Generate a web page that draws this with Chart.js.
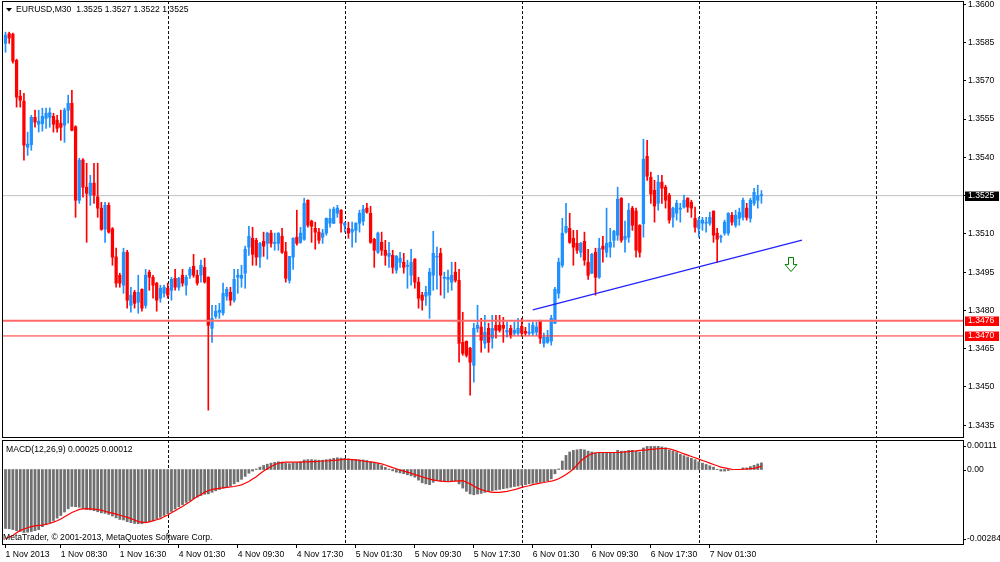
<!DOCTYPE html>
<html><head><meta charset="utf-8">
<script src="https://cdn.jsdelivr.net/npm/chart.js@4.4.1/dist/chart.umd.min.js"></script>
<style>
html,body{margin:0;padding:0;background:#fff;}
#wrap{position:relative;width:1000px;height:562px;background:#fff;}
#wrap canvas{position:absolute;left:0;top:0;}
</style></head><body>
<div id="wrap"><canvas id="main" width="1000" height="562"></canvas><canvas id="macd" width="1000" height="562"></canvas></div>
<script>
const symbol = 'EURUSD', timeframe = 'M30';
const opens = [1.35847,1.35885,1.35883,1.35780,1.35640,1.35620,1.35440,1.35450,1.35557,1.35530,
1.35532,1.35553,1.35557,1.35561,1.35546,1.35534,1.35526,1.35585,1.35612,1.35520,
1.35232,1.35390,1.35283,1.35252,1.35299,1.35245,1.35201,1.35118,1.35212,1.35120,
1.35010,1.34938,1.34899,1.35028,1.34820,1.34871,1.34832,1.34883,1.34820,1.34950,
1.34930,1.34907,1.34848,1.34867,1.34887,1.34879,1.34926,1.34891,1.34938,1.34899,
1.34938,1.34973,1.34938,1.34938,1.34969,1.34930,1.34730,1.34777,1.34793,1.34790,
1.34856,1.34871,1.34840,1.34930,1.34926,1.34946,1.35048,1.35083,1.35075,1.35009,
1.35071,1.35063,1.35103,1.35063,1.35063,1.35091,1.35030,1.34918,1.35009,1.35087,
1.35067,1.35079,1.35232,1.35150,1.35122,1.35107,1.35087,1.35103,1.35142,1.35142,
1.35181,1.35193,1.35134,1.35122,1.35107,1.35114,1.35142,1.35150,1.35201,1.35181,
1.35079,1.35028,1.35067,1.35036,1.35012,1.35016,1.34958,1.34989,1.34989,1.34973,
1.34938,1.35001,1.34911,1.34860,1.34856,1.34860,1.34938,1.35009,1.35024,1.34926,
1.34922,1.34911,1.34950,1.34918,1.34675,1.34679,1.34652,1.34585,1.34730,1.34735,
1.34671,1.34730,1.34691,1.34742,1.34742,1.34742,1.34715,1.34730,1.34711,1.34711,
1.34738,1.34718,1.34711,1.34711,1.34715,1.34758,1.34671,1.34675,1.34680,1.34750,
1.34867,1.34977,1.35107,1.35122,1.35083,1.35063,1.35028,1.35071,1.34989,1.34946,
1.35028,1.34930,1.35052,1.35028,1.35048,1.35075,1.35095,1.35240,1.35079,1.35087,
1.35201,1.35190,1.35134,1.35140,1.35404,1.35322,1.35271,1.35220,1.35303,1.35283,
1.35252,1.35165,1.35181,1.35197,1.35205,1.35240,1.35224,1.35161,1.35122,1.35142,
1.35142,1.35142,1.35189,1.35103,1.35087,1.35103,1.35103,1.35173,1.35134,1.35161,
1.35165,1.35201,1.35161,1.35220,1.35232,1.35250];
const highs = [1.35891,1.35891,1.35887,1.35785,1.35663,1.35651,1.35499,1.35565,1.35585,1.35585,
1.35593,1.35593,1.35594,1.35573,1.35565,1.35585,1.35593,1.35644,1.35663,1.35524,
1.35397,1.35395,1.35377,1.35330,1.35377,1.35377,1.35224,1.35224,1.35222,1.35125,
1.35044,1.34946,1.35044,1.35036,1.34891,1.34879,1.34938,1.34885,1.34961,1.34958,
1.34938,1.34910,1.34899,1.34899,1.34907,1.34930,1.34961,1.34930,1.34961,1.34938,
1.34969,1.35020,1.34958,1.34997,1.35005,1.34932,1.34820,1.34820,1.34828,1.34907,
1.34891,1.34891,1.34961,1.34961,1.34977,1.35052,1.35130,1.35126,1.35083,1.35067,
1.35107,1.35107,1.35114,1.35103,1.35105,1.35122,1.35067,1.35012,1.35085,1.35193,
1.35126,1.35240,1.35234,1.35154,1.35146,1.35122,1.35118,1.35163,1.35197,1.35205,
1.35212,1.35195,1.35146,1.35146,1.35146,1.35144,1.35193,1.35212,1.35220,1.35208,
1.35083,1.35107,1.35107,1.35075,1.35067,1.35036,1.35016,1.35028,1.35024,1.34997,
1.35040,1.35003,1.34930,1.34871,1.34895,1.34965,1.35110,1.35048,1.35044,1.34950,
1.34958,1.34989,1.34989,1.34961,1.34793,1.34681,1.34655,1.34750,1.34820,1.34769,
1.34781,1.34750,1.34781,1.34781,1.34781,1.34773,1.34754,1.34742,1.34754,1.34769,
1.34769,1.34734,1.34750,1.34754,1.34754,1.34762,1.34711,1.34722,1.34781,1.34891,
1.35005,1.35161,1.35220,1.35181,1.35114,1.35114,1.35067,1.35107,1.35040,1.35024,
1.35044,1.35083,1.35091,1.35201,1.35122,1.35114,1.35283,1.35242,1.35150,1.35220,
1.35208,1.35201,1.35136,1.35471,1.35467,1.35342,1.35310,1.35330,1.35330,1.35291,
1.35259,1.35205,1.35232,1.35220,1.35252,1.35242,1.35232,1.35205,1.35165,1.35165,
1.35165,1.35185,1.35191,1.35122,1.35095,1.35154,1.35183,1.35185,1.35193,1.35201,
1.35240,1.35220,1.35240,1.35279,1.35291,1.35270];
const lows = [1.35812,1.35847,1.35769,1.35597,1.35597,1.35389,1.35408,1.35428,1.35518,1.35499,
1.35503,1.35514,1.35518,1.35499,1.35499,1.35467,1.35459,1.35534,1.35504,1.35165,
1.35220,1.35244,1.35067,1.35212,1.35220,1.35165,1.35114,1.35067,1.35103,1.34977,
1.34891,1.34891,1.34867,1.34809,1.34793,1.34809,1.34789,1.34797,1.34809,1.34879,
1.34848,1.34797,1.34832,1.34852,1.34848,1.34840,1.34879,1.34879,1.34895,1.34860,
1.34926,1.34930,1.34899,1.34911,1.34907,1.34409,1.34675,1.34769,1.34769,1.34781,
1.34840,1.34820,1.34832,1.34867,1.34891,1.34887,1.35016,1.34977,1.34977,1.34969,
1.35012,1.35001,1.35048,1.35036,1.35036,1.35024,1.34911,1.34907,1.34961,1.35056,
1.35063,1.35075,1.35126,1.35067,1.35040,1.35063,1.35063,1.35095,1.35126,1.35140,
1.35165,1.35107,1.35107,1.35083,1.35048,1.35067,1.35107,1.35134,1.35181,1.35063,
1.34969,1.35024,1.35016,1.34977,1.34969,1.34946,1.34946,1.34969,1.34946,1.34887,
1.34899,1.34887,1.34809,1.34801,1.34820,1.34769,1.34879,1.34883,1.34860,1.34848,
1.34871,1.34879,1.34911,1.34597,1.34624,1.34617,1.34468,1.34519,1.34715,1.34636,
1.34652,1.34636,1.34652,1.34691,1.34715,1.34675,1.34695,1.34691,1.34703,1.34703,
1.34699,1.34703,1.34703,1.34703,1.34703,1.34671,1.34656,1.34671,1.34664,1.34748,
1.34848,1.34969,1.35103,1.35063,1.34977,1.35024,1.35009,1.34977,1.34922,1.34944,
1.34860,1.34926,1.34989,1.35009,1.35009,1.35048,1.35075,1.35067,1.35028,1.35067,
1.35114,1.35009,1.35009,1.35087,1.35310,1.35220,1.35146,1.35193,1.35220,1.35201,
1.35142,1.35126,1.35154,1.35146,1.35201,1.35185,1.35165,1.35107,1.35087,1.35114,
1.35107,1.35134,1.35067,1.34989,1.35067,1.35095,1.35095,1.35134,1.35126,1.35134,
1.35154,1.35154,1.35146,1.35212,1.35201,1.35220];
const closes = [1.35879,1.35868,1.35777,1.35636,1.35624,1.35448,1.35452,1.35557,1.35538,1.35542,
1.35561,1.35573,1.35575,1.35530,1.35514,1.35518,1.35585,1.35612,1.35506,1.35232,
1.35389,1.35283,1.35259,1.35299,1.35252,1.35201,1.35118,1.35212,1.35107,1.35009,
1.34907,1.34907,1.35028,1.34840,1.34860,1.34828,1.34871,1.34809,1.34938,1.34930,
1.34899,1.34840,1.34887,1.34891,1.34860,1.34922,1.34891,1.34926,1.34907,1.34930,
1.34961,1.34938,1.34907,1.34977,1.34911,1.34742,1.34769,1.34797,1.34801,1.34867,
1.34883,1.34840,1.34922,1.34938,1.34938,1.35040,1.35091,1.35020,1.35009,1.35063,
1.35052,1.35103,1.35063,1.35067,1.35103,1.35028,1.34926,1.35012,1.35083,1.35063,
1.35103,1.35220,1.35134,1.35130,1.35107,1.35075,1.35103,1.35161,1.35161,1.35197,
1.35201,1.35142,1.35142,1.35103,1.35118,1.35142,1.35181,1.35197,1.35185,1.35067,
1.35036,1.35103,1.35036,1.35016,1.35024,1.34969,1.35012,1.35005,1.34969,1.34977,
1.34989,1.34911,1.34848,1.34840,1.34871,1.34950,1.35024,1.35012,1.34938,1.34930,
1.34930,1.34938,1.34918,1.34671,1.34632,1.34624,1.34597,1.34730,1.34742,1.34683,
1.34715,1.34675,1.34730,1.34722,1.34722,1.34730,1.34722,1.34703,1.34722,1.34730,
1.34711,1.34711,1.34715,1.34742,1.34735,1.34691,1.34695,1.34695,1.34769,1.34883,
1.34989,1.35103,1.35130,1.35067,1.35048,1.35036,1.35063,1.34997,1.34938,1.35020,
1.34930,1.35044,1.35040,1.35063,1.35067,1.35110,1.35236,1.35075,1.35091,1.35193,
1.35134,1.35036,1.35028,1.35393,1.35326,1.35256,1.35209,1.35303,1.35279,1.35232,
1.35154,1.35201,1.35220,1.35201,1.35232,1.35205,1.35201,1.35126,1.35154,1.35154,
1.35146,1.35165,1.35095,1.35079,1.35091,1.35146,1.35181,1.35146,1.35173,1.35185,
1.35232,1.35165,1.35232,1.35263,1.35250,1.35250];
const macdMain = [-0.00222,-0.00223,-0.00226,-0.00230,-0.00233,-0.00237,-0.00236,-0.00233,-0.00230,-0.00226,
-0.00215,-0.00208,-0.00200,-0.00192,-0.00183,-0.00173,-0.00160,-0.00148,-0.00139,-0.00140,
-0.00142,-0.00146,-0.00150,-0.00152,-0.00155,-0.00159,-0.00163,-0.00165,-0.00169,-0.00175,
-0.00182,-0.00188,-0.00190,-0.00196,-0.00200,-0.00203,-0.00204,-0.00204,-0.00200,-0.00196,
-0.00192,-0.00186,-0.00180,-0.00173,-0.00166,-0.00158,-0.00149,-0.00140,-0.00132,-0.00124,
-0.00117,-0.00110,-0.00104,-0.00098,-0.00093,-0.00092,-0.00086,-0.00080,-0.00075,-0.00070,
-0.00065,-0.00061,-0.00054,-0.00046,-0.00037,-0.00026,-0.00014,-0.00006,0.00002,0.00009,
0.00015,0.00020,0.00024,0.00027,0.00029,0.00028,0.00023,0.00022,0.00025,0.00026,
0.00029,0.00036,0.00037,0.00037,0.00036,0.00035,0.00035,0.00037,0.00039,0.00042,
0.00044,0.00043,0.00042,0.00040,0.00038,0.00037,0.00036,0.00036,0.00034,0.00029,
0.00023,0.00022,0.00015,0.00008,0.00002,-0.00005,-0.00010,-0.00013,-0.00016,-0.00020,
-0.00024,-0.00029,-0.00040,-0.00050,-0.00054,-0.00057,-0.00048,-0.00042,-0.00044,-0.00046,
-0.00044,-0.00042,-0.00042,-0.00054,-0.00070,-0.00082,-0.00092,-0.00095,-0.00092,-0.00090,
-0.00086,-0.00082,-0.00080,-0.00077,-0.00075,-0.00072,-0.00070,-0.00067,-0.00064,-0.00062,
-0.00059,-0.00057,-0.00054,-0.00052,-0.00049,-0.00048,-0.00046,-0.00042,-0.00035,-0.00016,
0.00002,0.00032,0.00053,0.00066,0.00072,0.00074,0.00076,0.00074,0.00069,0.00066,
0.00062,0.00062,0.00062,0.00062,0.00063,0.00064,0.00072,0.00069,0.00069,0.00072,
0.00072,0.00069,0.00066,0.00081,0.00087,0.00087,0.00087,0.00087,0.00085,0.00082,
0.00074,0.00069,0.00064,0.00057,0.00052,0.00047,0.00042,0.00037,0.00029,0.00024,
0.00019,0.00014,0.00009,0.00001,-0.00006,-0.00006,-0.00004,-0.00001,0.00000,0.00001,
0.00006,0.00006,0.00011,0.00016,0.00021,0.00025];
const macdSignal = [-0.00260,-0.00254,-0.00248,-0.00238,-0.00229,-0.00224,-0.00219,-0.00215,-0.00212,-0.00210,
-0.00209,-0.00206,-0.00203,-0.00198,-0.00193,-0.00186,-0.00178,-0.00170,-0.00162,-0.00156,
-0.00150,-0.00148,-0.00147,-0.00148,-0.00149,-0.00151,-0.00153,-0.00157,-0.00161,-0.00164,
-0.00168,-0.00172,-0.00176,-0.00180,-0.00185,-0.00190,-0.00196,-0.00198,-0.00200,-0.00197,
-0.00193,-0.00189,-0.00185,-0.00178,-0.00171,-0.00163,-0.00155,-0.00147,-0.00139,-0.00130,
-0.00121,-0.00111,-0.00102,-0.00094,-0.00086,-0.00080,-0.00075,-0.00073,-0.00071,-0.00069,
-0.00067,-0.00065,-0.00064,-0.00061,-0.00058,-0.00052,-0.00045,-0.00036,-0.00027,-0.00016,
-0.00006,0.00003,0.00011,0.00018,0.00024,0.00026,0.00028,0.00028,0.00028,0.00028,
0.00028,0.00029,0.00029,0.00030,0.00030,0.00031,0.00032,0.00032,0.00033,0.00034,
0.00035,0.00037,0.00038,0.00038,0.00037,0.00036,0.00034,0.00032,0.00030,0.00029,
0.00027,0.00024,0.00021,0.00017,0.00012,0.00007,0.00003,-0.00002,-0.00006,-0.00010,
-0.00014,-0.00019,-0.00023,-0.00028,-0.00032,-0.00036,-0.00039,-0.00042,-0.00044,-0.00045,
-0.00046,-0.00045,-0.00044,-0.00043,-0.00042,-0.00048,-0.00054,-0.00062,-0.00070,-0.00075,
-0.00080,-0.00083,-0.00086,-0.00086,-0.00086,-0.00084,-0.00082,-0.00079,-0.00076,-0.00072,
-0.00067,-0.00064,-0.00061,-0.00057,-0.00054,-0.00051,-0.00049,-0.00046,-0.00044,-0.00040,
-0.00035,-0.00027,-0.00019,-0.00009,0.00002,0.00017,0.00032,0.00043,0.00053,0.00059,
0.00063,0.00064,0.00064,0.00064,0.00064,0.00064,0.00064,0.00065,0.00066,0.00067,
0.00069,0.00070,0.00072,0.00073,0.00074,0.00076,0.00077,0.00078,0.00079,0.00079,
0.00078,0.00074,0.00069,0.00064,0.00059,0.00054,0.00049,0.00044,0.00039,0.00034,
0.00029,0.00024,0.00019,0.00014,0.00009,0.00006,0.00003,0.00001,0.00000,0.00000,
0.00001,0.00002,0.00003,0.00004,0.00008,0.00012];
const timeLabels = ['1 Nov 2013','1 Nov 08:30','1 Nov 16:30','4 Nov 01:30','4 Nov 09:30','4 Nov 17:30','5 Nov 01:30','5 Nov 09:30','5 Nov 17:30','6 Nov 01:30','6 Nov 09:30','6 Nov 17:30','7 Nov 01:30'];
const timeLabelBars = [0,15,31,47,63,79,95,111,127,143,159,175,191];
const daySeparatorBars = [44,92,140,188,236];
const priceTicks = [1.3600,1.3585,1.3570,1.3555,1.3540,1.3525,1.3510,1.3495,1.3480,1.3465,1.3450,1.3435];
const macdTicks = [0.00111, 0.00, -0.00284];
const levelPrices = [1.3476, 1.3470];
const trendBars = [143, 216];
const trendPrices = [1.34802, 1.35076];
const arrowBar = 213, arrowPrice = 1.34978;

const FONT = '"Liberation Sans", Arial, sans-serif';
const FS = 8.6;
const xMin = -0.95, xMax = 259.66;
const priceMin = 1.3430, priceMax = 1.36013;
const BULL = '#1E90FF', BEAR = '#FF0000';
Chart.defaults.font.family = FONT;
Chart.defaults.font.size = FS;
Chart.defaults.color = '#000';

const N = closes.length;
const candleColors = closes.map((c, i) => c >= opens[i] ? BULL : BEAR);
const wickData = lows.map((l, i) => ({x: i, y: [l, highs[i]]}));
const bodyData = opens.map((o, i) => ({x: i, y: [o, closes[i]]}));
const lastClose = closes[N - 1];

function drawSeparators(chart) {
  const {ctx, chartArea: a, scales: {x}} = chart;
  ctx.save();
  ctx.beginPath(); ctx.rect(a.left, a.top, a.right - a.left, a.bottom - a.top); ctx.clip();
  ctx.strokeStyle = '#111'; ctx.lineWidth = 1; ctx.setLineDash([3, 2]);
  daySeparatorBars.forEach(b => {
    const px = Math.round(x.getPixelForValue(b)) + 0.5;
    ctx.beginPath(); ctx.moveTo(px, a.top); ctx.lineTo(px, a.bottom); ctx.stroke();
  });
  ctx.restore();
}
function drawFrame(chart) {
  const {ctx, chartArea: a} = chart;
  ctx.save();
  ctx.strokeStyle = '#000'; ctx.lineWidth = 1;
  ctx.strokeRect(a.left + 0.5, a.top + 0.5, a.right - a.left, a.bottom - a.top - 1);
  ctx.restore();
}
function arrowImage() {
  const c = document.createElement('canvas'); c.width = 14; c.height = 16;
  const g = c.getContext('2d');
  g.strokeStyle = '#008000'; g.lineWidth = 1;
  g.beginPath();
  g.moveTo(4.5, 0.5); g.lineTo(9.5, 0.5); g.lineTo(9.5, 7.5); g.lineTo(13, 7.5);
  g.lineTo(7, 14.5); g.lineTo(1, 7.5); g.lineTo(4.5, 7.5); g.closePath(); g.stroke();
  return c;
}
function noPad(s) { s.paddingTop = 0; s.paddingBottom = 0; s.paddingLeft = 0; s.paddingRight = 0; }

const mainPlugin = {
  id: 'mainDecor',
  beforeDatasetsDraw(chart) { drawSeparators(chart); },
  afterDraw(chart) {
    const {ctx, chartArea: a, scales: {y}} = chart;
    drawFrame(chart);
    ctx.save();
    ctx.font = FS + 'px ' + FONT;
    ctx.textBaseline = 'middle'; ctx.textAlign = 'left';
    const box = (price, bg) => {
      const py = y.getPixelForValue(price);
      ctx.fillStyle = bg; ctx.fillRect(a.right + 2, Math.round(py) - 4.5, 34, 9.5);
      ctx.fillStyle = '#fff'; ctx.fillText(price.toFixed(4), a.right + 5, py);
    };
    box(lastClose, '#000');
    levelPrices.forEach(p => box(p, '#FF0000'));
    ctx.fillStyle = '#000';
    ctx.beginPath(); ctx.moveTo(a.left + 4, 8); ctx.lineTo(a.left + 10, 8); ctx.lineTo(a.left + 7, 11.5); ctx.closePath(); ctx.fill();
    const t = symbol + ',' + timeframe + '  ' + [opens[N-1], highs[N-1], lows[N-1], closes[N-1]].map(v => v.toFixed(4)).join(' ');
    ctx.fillText(t, a.left + 14, 10);
    ctx.restore();
  }
};

const macdPlugin = {
  id: 'macdDecor',
  beforeDatasetsDraw(chart) { drawSeparators(chart); },
  afterDraw(chart) {
    const {ctx, chartArea: a, scales: {y}} = chart;
    drawFrame(chart);
    ctx.save();
    ctx.font = FS + 'px ' + FONT;
    ctx.textBaseline = 'middle'; ctx.textAlign = 'left'; ctx.fillStyle = '#000';
    ctx.strokeStyle = '#000'; ctx.lineWidth = 1;
    macdTicks.forEach(v => {
      let py = y.getPixelForValue(v);
      py = Math.min(Math.max(py, a.top + 6), a.bottom - 6);
      const ry = Math.round(py) + 0.5;
      ctx.beginPath(); ctx.moveTo(a.right, ry); ctx.lineTo(a.right + 3, ry); ctx.stroke();
      ctx.fillText(v === 0 ? '0.00' : v.toFixed(5), a.right + 4, py);
    });
    ctx.fillText('MACD(12,26,9) ' + macdMain[N-1].toFixed(5) + ' ' + macdSignal[N-1].toFixed(5), a.left + 4, a.top + 9.5);
    ctx.fillText('MetaTrader, \u00A9 2001-2013, MetaQuotes Software Corp.', a.left + 1, a.bottom - 7);
    ctx.restore();
  }
};

const xCommon = {
  type: 'linear', min: xMin, max: xMax, bounds: 'data', offset: false
};

new Chart(document.getElementById('main'), {
  type: 'bar',
  data: {
    datasets: [
      {type: 'line', data: [{x: xMin, y: levelPrices[0]}, {x: xMax, y: levelPrices[0]}], borderColor: '#FF6A6A', borderWidth: 2, pointRadius: 0, order: 0},
      {type: 'line', data: [{x: xMin, y: levelPrices[1]}, {x: xMax, y: levelPrices[1]}], borderColor: '#FF2A2A', borderWidth: 1, pointRadius: 0, order: 0},
      {type: 'line', data: trendBars.map((b, i) => ({x: b, y: trendPrices[i]})), borderColor: '#2222FF', borderWidth: 1.3, pointRadius: 0, order: 0},
      {type: 'line', data: [{x: arrowBar, y: arrowPrice}], showLine: false, pointStyle: arrowImage(), pointRadius: 7, order: 0},
      {type: 'bar', data: bodyData, backgroundColor: candleColors, barThickness: 2.6, minBarLength: 1, grouped: false, borderWidth: 0, order: 1},
      {type: 'bar', data: wickData, backgroundColor: candleColors, barThickness: 1, minBarLength: 1, grouped: false, borderWidth: 0, order: 2},
      {type: 'line', data: [{x: xMin, y: lastClose}, {x: xMax, y: lastClose}], borderColor: '#C0C0C0', borderWidth: 1, pointRadius: 0, order: 3}
    ]
  },
  options: {
    responsive: false, animation: false, devicePixelRatio: 1, events: [],
    layout: {autoPadding: false, padding: {left: 2, top: 1, right: 0, bottom: 124}},
    plugins: {legend: {display: false}, tooltip: {enabled: false}},
    scales: {
      x: Object.assign({}, xCommon, {display: false}),
      y: {
        type: 'linear', position: 'right', min: priceMin, max: priceMax, bounds: 'data',
        afterFit(s) { s.width = 37; noPad(s); },
        afterBuildTicks(s) { s.ticks = priceTicks.map(v => ({value: v})); },
        grid: {drawOnChartArea: false, drawTicks: true, tickLength: 3, color: '#000'},
        border: {display: false},
        ticks: {callback: v => Number(v).toFixed(4), padding: 2, font: {size: FS, family: FONT}, color: '#000', autoSkip: false}
      }
    }
  },
  plugins: [mainPlugin]
});

new Chart(document.getElementById('macd'), {
  type: 'bar',
  data: {
    datasets: [
      {type: 'line', data: macdSignal.map((v, i) => ({x: i, y: v})), borderColor: '#FF0000', borderWidth: 1.2, pointRadius: 0, order: 0},
      {type: 'bar', data: macdMain.map((v, i) => ({x: i, y: v})), backgroundColor: '#707070', barThickness: 2.1, grouped: false, borderWidth: 0, order: 1}
    ]
  },
  options: {
    responsive: false, animation: false, devicePixelRatio: 1, events: [],
    layout: {autoPadding: false, padding: {left: 2, top: 440, right: 37, bottom: 0}},
    plugins: {legend: {display: false}, tooltip: {enabled: false}},
    scales: {
      x: Object.assign({}, xCommon, {
        display: true, position: 'bottom',
        afterFit(s) { s.height = 17; noPad(s); },
        afterBuildTicks(s) { s.ticks = timeLabelBars.map(v => ({value: v})); },
        grid: {drawOnChartArea: false, drawTicks: true, tickLength: 3, color: '#000', offset: false},
        border: {display: false},
        ticks: {callback: (v, i) => timeLabels[i], align: 'start', maxRotation: 0, autoSkip: false, padding: 1, font: {size: FS, family: FONT}, color: '#000'}
      }),
      y: {type: 'linear', display: false, min: Math.min(...macdTicks), max: Math.max(...macdTicks), bounds: 'data'}
    }
  },
  plugins: [macdPlugin]
});
</script>
</body></html>
